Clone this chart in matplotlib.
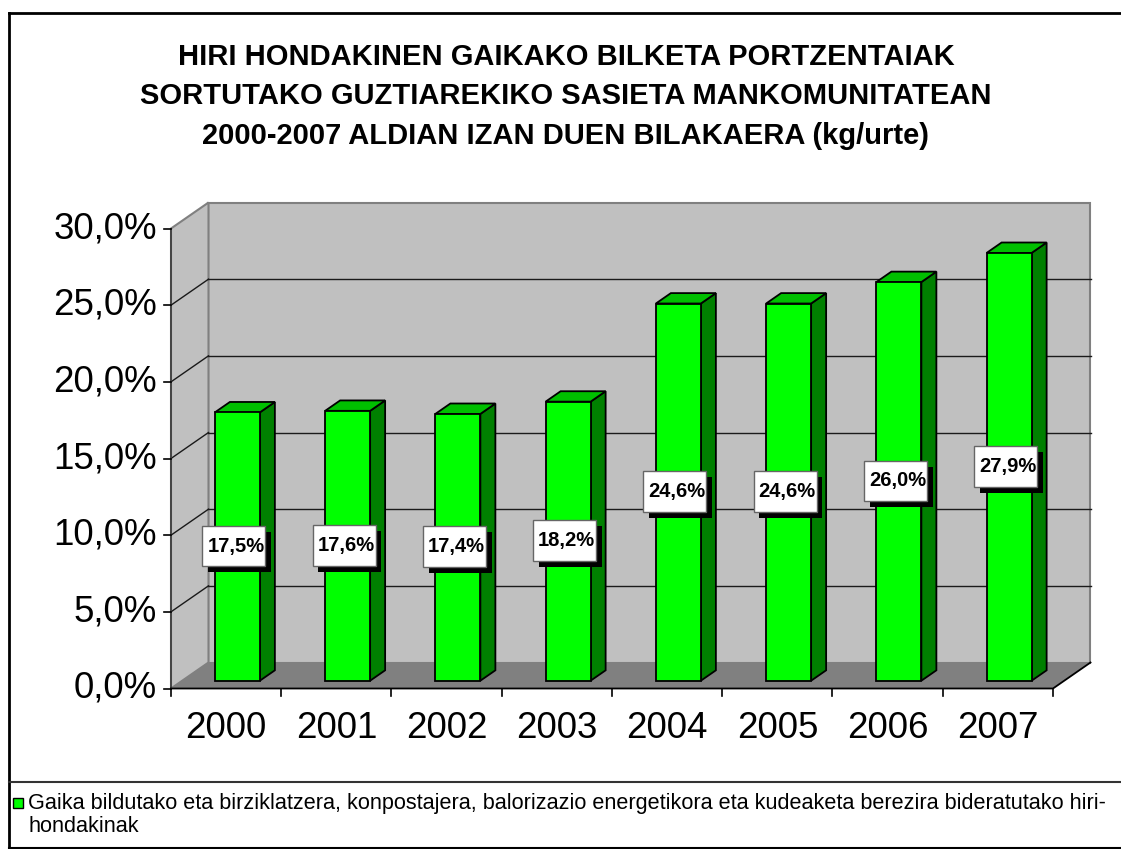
import matplotlib
matplotlib.use("Agg")
import matplotlib.pyplot as plt
from matplotlib.patches import Polygon, Rectangle
from matplotlib.lines import Line2D

plt.rcParams.update({
    "font.family": ["Liberation Sans", "DejaVu Sans"],
})

# ---------------------------------------------------------------------------
# Data
# ---------------------------------------------------------------------------

years = ["2000", "2001", "2002", "2003", "2004", "2005", "2006", "2007"]
pct = [17.5, 17.6, 17.4, 18.2, 24.6, 24.6, 26.0, 27.9]
y_ticks = [0, 5, 10, 15, 20, 25, 30]

title_lines = [
    "HIRI HONDAKINEN GAIKAKO BILKETA PORTZENTAIAK",
    "SORTUTAKO GUZTIAREKIKO SASIETA MANKOMUNITATEAN",
    "2000-2007 ALDIAN IZAN DUEN BILAKAERA (kg/urte)",
]
legend_lines = [
    "Gaika bildutako eta birziklatzera, konpostajera, balorizazio energetikora "
    "eta kudeaketa berezira bideratutako hiri-",
    "hondakinak",
]

# ---------------------------------------------------------------------------
# Layout (pixels of a 1121x849 canvas)
# ---------------------------------------------------------------------------

W, H = 1121, 849
X0_PX = 171.0        # front plane, left edge of the category axis
SLOT_PX = 110.25     # width of one category slot
Y0_PX = 688.5        # front plane, 0 % level (from top)
PCT_PX = 15.333      # pixels per percentage point

DX = 37.5 / SLOT_PX  # full depth of the 3-D box in data units
DY = 26.0 / PCT_PX
F_FRONT, F_BACK = 0.30, 0.70   # bar position inside the depth
BAR_W = 45.0 / SLOT_PX

FRONT = "#00ff00"
TOP = "#00c000"
SIDE = "#008000"
WALL = "#c0c0c0"
FLOOR = "#808080"

fig = plt.figure(figsize=(W / 100, H / 100), dpi=100)
ax = fig.add_axes([0, 0, 1, 1])
ax.set_xlim(-X0_PX / SLOT_PX, (W - X0_PX) / SLOT_PX)
ax.set_ylim(-(H - Y0_PX) / PCT_PX, Y0_PX / PCT_PX)
ax.axis("off")

n = len(years)
ymax = y_ticks[-1]


def fy(py):
    """figure fraction from a pixel row counted from the top"""
    return 1 - py / H


def fx(px):
    return px / W


# --- walls and floor ---
ax.add_patch(Rectangle((DX, DY), n, ymax, facecolor=WALL,
                       edgecolor=FLOOR, lw=1.5, zorder=1))
ax.add_patch(Polygon([(0, 0), (DX, DY), (DX, ymax + DY), (0, ymax)],
                     facecolor=WALL, edgecolor=FLOOR, lw=1.5, zorder=1))
ax.add_patch(Polygon([(0, 0), (n, 0), (n + DX, DY), (DX, DY)],
                     facecolor=FLOOR, edgecolor="none", zorder=1.5))

for v in y_ticks[1:-1]:
    ax.plot([DX, n + DX], [v + DY, v + DY], color="#1a1a1a", lw=1.0, zorder=2)
    ax.plot([0, DX], [v, v + DY], color="#1a1a1a", lw=1.0, zorder=2)

# --- axes lines and ticks ---
ax.plot([0, 0], [0, ymax], color="#404040", lw=1.3, zorder=2)
ax.plot([0, n, n + DX], [0, 0, DY], color="black", lw=1.3, zorder=2)
for v in y_ticks:
    ax.plot([0, -7 / SLOT_PX], [v, v], color="black", lw=1.2, zorder=2)
    ax.text(-14 / SLOT_PX, v, f"{v:.1f}%".replace(".", ","),
            ha="right", va="center", fontsize=26.5, zorder=5)
for i in range(n + 1):
    ax.plot([i, i], [0, -7 / PCT_PX], color="black", lw=1.2, zorder=2)
for i, yr in enumerate(years):
    ax.text(i + 0.5, -40 / PCT_PX, yr, ha="center", va="center",
            fontsize=26.5, zorder=5)

# --- 3-D columns ---
ddx = (F_BACK - F_FRONT) * DX
ddy = (F_BACK - F_FRONT) * DY
for i, v in enumerate(pct):
    x0 = i + 0.5 - BAR_W / 2 + F_FRONT * DX
    y0 = F_FRONT * DY
    x1 = x0 + BAR_W
    y1 = y0 + v
    ax.add_patch(Polygon([(x1, y0), (x1 + ddx, y0 + ddy), (x1 + ddx, y1 + ddy), (x1, y1)],
                         facecolor=SIDE, edgecolor="black", lw=1.3, zorder=3))
    ax.add_patch(Polygon([(x0, y1), (x1, y1), (x1 + ddx, y1 + ddy), (x0 + ddx, y1 + ddy)],
                         facecolor=TOP, edgecolor="black", lw=1.3, zorder=3))
    ax.add_patch(Rectangle((x0, y0), BAR_W, v, facecolor=FRONT,
                           edgecolor="black", lw=1.3, zorder=3))

    # value label: white box with a drop shadow, centred on the column
    cx = (x0 + x1) / 2 - 3.5 / SLOT_PX
    cy = y0 + v / 2 + 0.5 / PCT_PX
    bw, bh = 63 / SLOT_PX, 40.7 / PCT_PX
    ax.add_patch(Rectangle((cx - bw / 2 + 5.7 / SLOT_PX, cy - bh / 2 - 6 / PCT_PX),
                           bw, bh, facecolor="black", edgecolor="none", zorder=6))
    ax.add_patch(Rectangle((cx - bw / 2, cy - bh / 2), bw, bh,
                           facecolor="white", edgecolor="#666666", lw=1.0, zorder=7))
    ax.text(cx + 2 / SLOT_PX, cy, f"{v:.1f}%".replace(".", ","), ha="center",
            va="center", fontsize=14.5, fontweight="bold", zorder=8)

# --- title ---
for k, line in enumerate(title_lines):
    fig.text(fx(566), fy(57 + 39.5 * k), line, ha="center", va="center",
             fontsize=21, fontweight="bold")

# --- outer frame and legend ---
fig.add_artist(Line2D([fx(8.5), fx(W + 5)], [fy(12.5), fy(12.5)], color="black", lw=2))
fig.add_artist(Line2D([fx(8.5), fx(8.5)], [fy(12.5), fy(H + 5)], color="black", lw=2))
fig.add_artist(Line2D([fx(8.5), fx(W + 5)], [fy(782), fy(782)], color="#333333", lw=1.5))
fig.add_artist(Line2D([fx(8.5), fx(W + 5)], [fy(848), fy(848)], color="black", lw=1.5))
fig.add_artist(Rectangle((fx(12.5), fy(808)), fx(10), 10 / H, facecolor=FRONT,
                         edgecolor="black", lw=1.0, transform=fig.transFigure))
fig.text(fx(28), fy(803), legend_lines[0], ha="left", va="center", fontsize=15.6)
fig.text(fx(28), fy(827), legend_lines[1], ha="left", va="center", fontsize=15.6)

fig.savefig("out.png", dpi=100)
